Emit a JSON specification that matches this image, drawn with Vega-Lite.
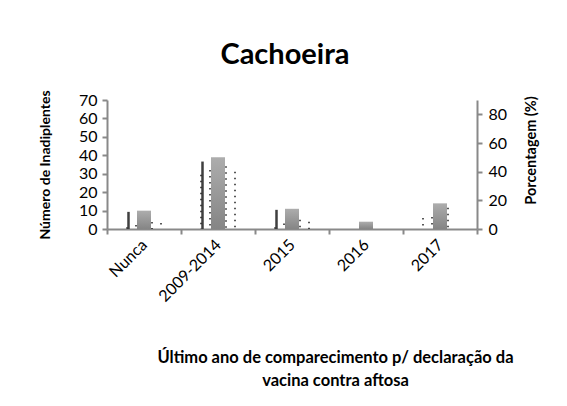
{
  "$schema": "https://vega.github.io/schema/vega-lite/v6.json",
  "autosize": {"type": "none"},
  "width": 370,
  "height": 129,
  "padding": {"left": 107, "top": 100, "right": 90, "bottom": 177},
  "background": "white",
  "config": {
    "font": "Lato",
    "view": {"stroke": null},
    "axis": {
      "domainColor": "#898989",
      "domainWidth": 2,
      "tickColor": "#898989",
      "tickWidth": 2,
      "tickSize": 5,
      "labelColor": "black",
      "titleColor": "black",
      "grid": false,
      "labelFont": "Lato",
      "titleFont": "Lato",
      "labelOverlap": false
    }
  },
  "title": {
    "text": "Cachoeira",
    "fontSize": 29,
    "fontWeight": "bold",
    "font": "Lato",
    "color": "black",
    "anchor": "middle",
    "dx": -7,
    "offset": 20
  },
  "data": {
    "values": [
      {"cat": "Nunca", "dark": 9.3, "d1": 1, "d2": 2.2, "d3": 3.8, "d4": 3.3, "pct": 12.8},
      {"cat": "2009-2014", "dark": 36.6, "d1": 29.5, "d2": 32, "d3": 34, "d4": 31, "pct": 50},
      {"cat": "2015", "dark": 10.4, "d1": 1, "d2": 3, "d3": 5, "d4": 4, "pct": 14.1},
      {"cat": "2016", "dark": 0, "d1": 0, "d2": 0, "d3": 0, "d4": 0, "pct": 5.1},
      {"cat": "2017", "dark": 0, "d1": 6, "d2": 6.5, "d3": 11.5, "d4": 0, "pct": 17.9}
    ]
  },
  "encoding": {
    "x": {
      "field": "cat",
      "type": "nominal",
      "sort": null,
      "scale": {"paddingInner": 0, "paddingOuter": 0},
      "axis": {
        "title": ["Último ano de comparecimento p/ declaração  da", "vacina contra aftosa"],
        "labelAngle": -45,
        "labelAlign": "right",
        "labelBaseline": "middle",
        "labelPadding": 8,
        "labelFontSize": 16,
        "tickBand": "extent",
        "titleFontSize": 16.5,
        "titleFontWeight": "bold",
        "titleX": 228,
        "titleY": 120,
        "titleBaseline": "top",
        "titleLineHeight": 23
      }
    }
  },
  "layer": [
    {
      "mark": {
        "type": "bar",
        "width": 14,
        "fill": {
          "gradient": "linear",
          "x1": 0, "y1": 0, "x2": 0, "y2": 1,
          "stops": [{"offset": 0, "color": "#adadad"}, {"offset": 1, "color": "#858585"}]
        }
      },
      "encoding": {
        "y": {
          "field": "pct",
          "type": "quantitative",
          "scale": {"domain": [0, 90], "nice": false},
          "axis": {
            "orient": "right",
            "values": [0, 20, 40, 60, 80],
            "title": "Porcentagem (%)",
            "titleAngle": -90,
            "titleFontSize": 14.5,
            "titleFontWeight": "bold",
            "titleY": 50,
            "titlePadding": 32,
            "labelFontSize": 16,
            "labelPadding": 6
          }
        }
      }
    },
    {
      "layer": [
        {
          "mark": {"type": "bar", "width": 2.5, "xOffset": -15.5, "color": "#3f3f3f"},
          "encoding": {
            "y": {
              "field": "dark",
              "type": "quantitative",
              "scale": {"domain": [0, 70], "nice": false},
              "axis": {"orient": "left", "values": [0, 10, 20, 30, 40, 50, 60, 70], "title": "Número de Inadiplentes", "titleFontSize": 14, "titleFontWeight": "bold", "titlePadding": 26, "labelFontSize": 16, "labelPadding": 5}
            }
          }
        },
        {
          "mark": {"type": "rule", "xOffset": -17, "strokeDash": [1.5, 4.5], "strokeWidth": 1.5, "color": "#222"},
          "encoding": {
            "y": {"field": "d1", "type": "quantitative", "scale": {"domain": [0, 70], "nice": false},
              "axis": {"orient": "left", "values": [0, 10, 20, 30, 40, 50, 60, 70], "title": "Número de Inadiplentes", "titleFontSize": 14, "titleFontWeight": "bold", "titlePadding": 26, "labelFontSize": 16, "labelPadding": 5}},
            "y2": {"datum": 0}
          }
        },
        {
          "mark": {"type": "rule", "xOffset": -8, "strokeDash": [1.5, 4.5], "strokeWidth": 1.5, "color": "#222"},
          "encoding": {
            "y": {"field": "d2", "type": "quantitative", "scale": {"domain": [0, 70], "nice": false},
              "axis": {"orient": "left", "values": [0, 10, 20, 30, 40, 50, 60, 70], "title": "Número de Inadiplentes", "titleFontSize": 14, "titleFontWeight": "bold", "titlePadding": 26, "labelFontSize": 16, "labelPadding": 5}},
            "y2": {"datum": 0}
          }
        },
        {
          "mark": {"type": "rule", "xOffset": 8, "strokeDash": [1.5, 4.5], "strokeWidth": 1.5, "color": "#222"},
          "encoding": {
            "y": {"field": "d3", "type": "quantitative", "scale": {"domain": [0, 70], "nice": false},
              "axis": {"orient": "left", "values": [0, 10, 20, 30, 40, 50, 60, 70], "title": "Número de Inadiplentes", "titleFontSize": 14, "titleFontWeight": "bold", "titlePadding": 26, "labelFontSize": 16, "labelPadding": 5}},
            "y2": {"datum": 0}
          }
        },
        {
          "mark": {"type": "rule", "xOffset": 17, "strokeDash": [1.5, 4.5], "strokeWidth": 1.5, "color": "#222"},
          "encoding": {
            "y": {"field": "d4", "type": "quantitative", "scale": {"domain": [0, 70], "nice": false},
              "axis": {"orient": "left", "values": [0, 10, 20, 30, 40, 50, 60, 70], "title": "Número de Inadiplentes", "titleFontSize": 14, "titleFontWeight": "bold", "titlePadding": 26, "labelFontSize": 16, "labelPadding": 5}},
            "y2": {"datum": 0}
          }
        }
      ]
    }
  ],
  "resolve": {"scale": {"y": "independent"}}
}
